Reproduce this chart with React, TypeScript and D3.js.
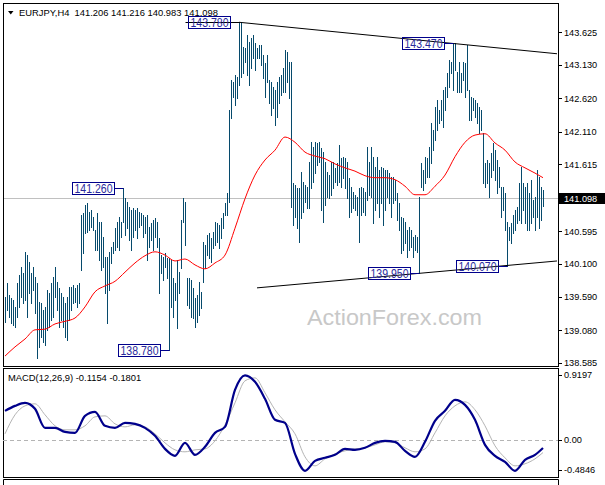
import * as d3 from 'd3'

// EURJPY H4 bars (oldest first)
const highs = [
  139.59, 139.80, 139.62, 139.58, 139.55, 139.44, 139.80, 139.93, 140.05, 139.96,
  140.28, 140.23, 140.12, 139.96, 140.05, 139.90, 139.80, 139.51, 139.50, 139.39,
  139.44, 139.70, 139.65, 139.80, 139.90, 140.05, 139.82, 139.73, 139.65, 139.59,
  139.50, 139.59, 139.74, 139.74, 139.77, 139.73, 139.77, 139.80, 140.84, 140.87,
  140.99, 141.02, 140.89, 140.92, 140.81, 140.61, 140.87, 140.73, 140.73, 140.51,
  140.20, 140.20, 140.28, 140.35, 140.43, 140.64, 140.73, 140.81, 140.73, 141.26,
  141.10, 141.04, 140.96, 140.92, 140.95, 140.92, 140.95, 140.89, 140.87, 140.84,
  140.81, 140.84, 140.66, 140.72, 140.77, 140.80, 140.73, 140.49, 140.23, 140.20,
  140.26, 140.19, 140.19, 140.16, 139.88, 139.80, 140.16, 139.97, 140.77, 141.10,
  141.04, 139.88, 139.88, 139.85, 139.73, 139.58, 139.62, 139.82, 139.67, 140.43,
  140.38, 140.54, 140.57, 140.49, 140.58, 140.73, 140.72, 140.69, 140.80, 140.87,
  141.02, 141.18, 142.44, 142.90, 142.87, 142.98, 142.95, 143.78, 143.77, 143.40,
  143.39, 143.59, 143.48, 143.54, 143.59, 143.46, 143.39, 143.43, 143.43, 143.28,
  143.16, 143.28, 142.90, 142.87, 142.79, 142.75, 142.87, 142.95, 142.98, 143.08,
  143.36, 143.33, 143.17, 143.17, 141.33, 141.30, 141.25, 141.25, 141.50, 141.34,
  141.30, 141.27, 141.65, 141.95, 141.88, 141.95, 141.94, 141.95, 141.86, 141.80,
  141.65, 141.50, 141.45, 141.65, 141.65, 141.56, 141.63, 141.91, 141.71, 141.73,
  141.71, 141.65, 141.41, 141.27, 141.19, 141.15, 141.12, 141.25, 141.27, 141.25,
  141.19, 141.88, 141.65, 141.88, 141.73, 141.57, 141.73, 141.53, 141.57, 141.56,
  141.53, 141.53, 141.48, 141.42, 141.42, 141.38, 141.18, 141.02, 140.81, 140.80,
  140.73, 140.61, 140.66, 140.61, 140.51, 140.54, 140.51, 141.12, 141.63, 141.53,
  141.73, 141.71, 141.88, 142.24, 142.14, 142.49, 142.60, 142.44, 142.60, 142.75,
  142.79, 143.01, 143.21, 143.17, 143.47, 143.46, 143.02, 143.17, 143.01, 143.17,
  143.16, 143.43, 142.75, 142.64, 142.63, 142.60, 142.55, 142.49, 142.44, 142.09,
  141.63, 141.68, 141.63, 141.79, 141.94, 141.83, 141.68, 141.57, 141.27, 141.27,
  141.18, 140.73, 140.66, 140.72, 140.84, 140.92, 140.96, 141.33, 141.57, 141.33,
  141.27, 141.33, 141.18, 141.38, 141.07, 141.12, 141.53, 141.42, 141.27, 141.216
]

const lows = [
  139.21, 139.39, 139.29, 139.19, 139.16, 139.13, 139.29, 139.44, 139.59, 139.50,
  139.55, 139.29, 139.65, 139.50, 139.70, 139.35, 138.66, 138.83, 138.98, 138.90,
  138.86, 139.09, 139.13, 139.24, 139.29, 139.59, 139.39, 139.13, 139.24, 139.13,
  138.98, 138.94, 139.24, 139.39, 139.50, 139.51, 139.44, 139.50, 140.00, 140.26,
  140.57, 140.58, 140.61, 140.66, 140.61, 140.31, 140.31, 140.16, 140.00, 140.05,
  139.65, 139.19, 139.70, 140.11, 140.26, 140.31, 140.35, 140.31, 140.51, 140.73,
  140.54, 140.64, 140.46, 140.31, 140.51, 140.61, 140.49, 140.66, 140.69, 140.51,
  140.57, 140.16, 140.35, 140.46, 140.31, 140.51, 140.35, 139.65, 139.96, 139.85,
  140.05, 139.88, 138.78, 139.44, 139.29, 139.55, 139.12, 139.65, 140.03, 140.73,
  140.38, 139.47, 139.42, 139.29, 139.27, 139.13, 139.21, 139.32, 139.42, 139.82,
  140.03, 140.23, 140.19, 140.12, 140.34, 140.38, 140.43, 140.34, 140.49, 140.64,
  140.84, 140.84, 141.04, 142.32, 142.64, 142.52, 142.63, 142.82, 142.95, 143.01,
  143.17, 142.98, 142.82, 143.08, 143.24, 143.05, 143.24, 143.24, 143.13, 142.93,
  142.64, 142.87, 142.55, 142.37, 142.47, 142.21, 142.34, 142.55, 142.67, 142.72,
  142.72, 142.87, 142.63, 140.96, 140.69, 140.81, 140.64, 140.43, 140.80, 140.89,
  141.04, 140.95, 140.95, 141.25, 141.34, 141.48, 141.60, 141.65, 140.92, 140.73,
  140.99, 141.12, 141.10, 141.15, 141.25, 141.34, 141.30, 141.34, 141.27, 141.41,
  141.25, 141.10, 140.81, 140.89, 140.95, 140.92, 140.84, 140.43, 140.84, 140.89,
  140.84, 141.07, 141.15, 141.12, 140.72, 140.92, 141.02, 140.81, 141.02, 140.69,
  140.92, 141.12, 141.02, 140.81, 141.02, 141.07, 140.77, 140.61, 140.26, 140.31,
  140.41, 140.20, 140.31, 140.35, 140.20, 140.31, 140.28, 139.95, 141.27, 141.22,
  141.33, 141.42, 141.42, 141.63, 141.83, 141.99, 142.14, 142.24, 142.29, 142.18,
  142.44, 142.64, 142.79, 143.01, 142.75, 143.05, 142.72, 142.72, 142.72, 142.90,
  142.64, 142.75, 142.29, 142.29, 142.44, 142.34, 142.24, 142.09, 142.14, 141.33,
  141.27, 141.33, 141.12, 141.42, 141.53, 141.38, 141.18, 141.27, 140.81, 140.92,
  140.61, 140.07, 140.46, 140.41, 140.57, 140.61, 140.72, 140.77, 140.72, 140.92,
  140.72, 140.61, 140.61, 140.72, 140.81, 140.61, 140.81, 140.64, 140.77, 140.983
]

// indicator samples: every 5th bar plus the last one
const sampleBars = [...d3.range(0, 270, 5), 269]

const maValues = [
  138.69, 138.83, 138.95, 139.09, 139.10, 139.18, 139.22, 139.27, 139.44, 139.67,
  139.76, 139.83, 139.97, 140.11, 140.22, 140.28, 140.23, 140.14, 140.17, 140.08,
  140.02, 140.11, 140.23, 140.64, 141.09, 141.45, 141.68, 141.83, 142.03, 141.95,
  141.80, 141.74, 141.70, 141.62, 141.56, 141.51, 141.44, 141.41, 141.41, 141.38,
  141.28, 141.15, 141.15, 141.28, 141.45, 141.73, 141.95, 142.06, 142.08, 141.94,
  141.83, 141.65, 141.56, 141.48, 141.41
]

const macdMain = [
  0.411, 0.482, 0.525, 0.440, 0.170, 0.170, 0.113, 0.099, 0.340, 0.397,
  0.199, 0.170, 0.241, 0.227, 0.170, 0.057, -0.128, -0.227, -0.043, -0.213,
  -0.099, 0.099, 0.184, 0.709, 0.915, 0.823, 0.582, 0.284, 0.241, -0.199,
  -0.440, -0.298, -0.255, -0.213, -0.128, -0.142, -0.113, -0.043, -0.014, -0.028,
  -0.156, -0.241, -0.028, 0.270, 0.411, 0.567, 0.496, 0.284, -0.071, -0.227,
  -0.312, -0.440, -0.284, -0.213, -0.1154
]

const macdSignal = [
  0.085, 0.355, 0.482, 0.511, 0.355, 0.199, 0.142, 0.142, 0.199, 0.326,
  0.340, 0.227, 0.184, 0.213, 0.184, 0.085, -0.043, -0.142, -0.170, -0.142,
  -0.128, -0.014, 0.213, 0.525, 0.837, 0.879, 0.667, 0.426, 0.255, 0.085,
  -0.241, -0.369, -0.270, -0.199, -0.156, -0.128, -0.113, -0.071, -0.028, -0.043,
  -0.113, -0.170, -0.128, 0.099, 0.340, 0.482, 0.539, 0.426, 0.199, -0.085,
  -0.255, -0.369, -0.340, -0.270, -0.1801
]

const priceTicks = [143.625, 143.13, 142.62, 142.11, 141.615, 140.595, 140.1, 139.59, 139.08, 138.585]
const macdTicks = [0.9197, 0, -0.4846]
const lastPrice = 141.098
const header = 'EURJPY,H4  141.206 141.216 140.983 141.098'
const macdHeader = 'MACD(12,26,9) -0.1154 -0.1801'

const callouts = [
  { bar: 117, price: 143.78, text: '143.780', lead: true },
  { bar: 224, price: 143.47, text: '143.470', lead: false },
  { bar: 59, price: 141.26, text: '141.260', lead: false },
  { bar: 82, price: 138.78, text: '138.780', lead: false },
  { bar: 207, price: 139.95, text: '139.950', lead: false },
  { bar: 251, price: 140.07, text: '140.070', lead: false }
]

// [bar, price, bar, price]
const trendlines = [
  [117, 143.78, 276, 143.3],
  [126, 139.73, 276, 140.14]
]

const font = '"Liberation Sans", Arial, sans-serif'
const barColor = '#064a6c'

export default function App() {
  const width = 605
  const height = 485
  const plot = { left: 3, right: 558, top: 3, bottom: 366 }
  const macdPanel = { top: 368, bottom: 477 }

  const n = highs.length
  const x = d3.scaleLinear().domain([0, n - 1]).range([5, 5 + 2 * (n - 1)])
  const y = d3.scaleLinear().domain([138.5385, 144.074]).range([plot.bottom, plot.top])
  const ym = d3.scaleLinear().domain([-0.4846, 0.9197]).range([474, 375])
  const crisp = (v: number) => Math.round(v) + 0.5

  const barsPath = highs
    .map((h, i) => `M${crisp(x(i))},${Math.round(y(h))}V${Math.round(y(lows[i])) + 1}`)
    .join('')

  const maLine = d3.line<number>()
    .x((_, k) => x(sampleBars[k]))
    .y(d => y(d))
    .curve(d3.curveMonotoneX)

  const macdLine = d3.line<number>()
    .x((_, k) => x(sampleBars[k]))
    .y(d => ym(d))
    .curve(d3.curveMonotoneX)

  const lastY = y(lastPrice)

  return (
    <svg width={width} height={height} style={{ position: 'absolute', left: 0, top: 0, background: '#fff' }}>
      <defs>
        <clipPath id="main-clip">
          <rect x={plot.left} y={plot.top} width={plot.right - plot.left} height={plot.bottom - plot.top} />
        </clipPath>
        <clipPath id="macd-clip">
          <rect x={plot.left} y={macdPanel.top} width={plot.right - plot.left} height={macdPanel.bottom - macdPanel.top} />
        </clipPath>
      </defs>

      {/* watermark */}
      <text x={307} y={325} fontFamily={font} fontSize={22} fill="#c8c8c8" textLength={175} lengthAdjust="spacingAndGlyphs">
        ActionForex.com
      </text>

      {/* current price line */}
      <line x1={plot.left} x2={plot.right} y1={crisp(lastY)} y2={crisp(lastY)} stroke="#c0c0c0" />

      <g clipPath="url(#main-clip)">
        <path d={barsPath} stroke={barColor} strokeWidth={1} fill="none" shapeRendering="crispEdges" />
        <path d={maLine(maValues) || ''} stroke="#ff0000" strokeWidth={1} fill="none" />
        {trendlines.map(([b1, p1, b2, p2], k) => (
          <line key={k} x1={x(b1)} y1={y(p1)} x2={x(b2)} y2={y(p2)} stroke="#000" strokeWidth={1} />
        ))}
      </g>

      {/* swing labels */}
      {callouts.map(c => {
        const bx = crisp(x(c.bar))
        const py = Math.round(y(c.price)) + 0.5
        const right = bx - 9
        const left = right - 42
        return (
          <g key={c.text}>
            {c.lead
              ? <line x1={left - 3} x2={bx} y1={py} y2={py} stroke="#000" />
              : <line x1={right} x2={bx} y1={py} y2={py} stroke="#00008b" />}
            <rect x={left} y={py - 6} width={42} height={12} fill="none" stroke="#00008b" strokeWidth={1} />
            <text x={left + 2} y={py + 4.5} fontFamily={font} fontSize={12} fill="#2a2a9c"
              textLength={38} lengthAdjust="spacingAndGlyphs">
              {c.text}
            </text>
          </g>
        )
      })}

      {/* header */}
      <path d="M8,11 L13.5,11 L10.75,14.5 Z" fill="#000" />
      <text x={19} y={16} fontFamily={font} fontSize={9.4} fill="#000" style={{ whiteSpace: 'pre' }}>
        {header}
      </text>

      {/* panel frames */}
      <rect x={plot.left + 0.5} y={plot.top + 0.5} width={plot.right - plot.left} height={plot.bottom - plot.top}
        fill="none" stroke="#000" />
      <rect x={plot.left + 0.5} y={macdPanel.top + 0.5} width={plot.right - plot.left} height={macdPanel.bottom - macdPanel.top}
        fill="none" stroke="#000" />
      <path d={`M${plot.left + 0.5},${height + 2}V${479.5}H${plot.right + 0.5}V${height + 2}`} fill="none" stroke="#000" />

      {/* price axis */}
      {priceTicks.map(t => (
        <g key={t}>
          <line x1={plot.right} x2={plot.right + 4} y1={crisp(y(t))} y2={crisp(y(t))} stroke="#000" />
          <text x={564} y={y(t) + 3.4} fontFamily={font} fontSize={9.2} fill="#000">{t.toFixed(3)}</text>
        </g>
      ))}
      <rect x={559} y={Math.round(lastY) - 5} width={46} height={11} fill="#000" />
      <text x={564} y={lastY + 3.6} fontFamily={font} fontSize={9.2} fill="#fff">{lastPrice.toFixed(3)}</text>

      {/* MACD */}
      <g clipPath="url(#macd-clip)">
        <line x1={plot.left} x2={plot.right} y1={crisp(ym(0))} y2={crisp(ym(0))}
          stroke="#b4b4b4" strokeDasharray="4,3" />
        <path d={macdLine(macdSignal) || ''} stroke="#b4b4b4" strokeWidth={1} fill="none" />
        <path d={macdLine(macdMain) || ''} stroke="#00008b" strokeWidth={2.2} fill="none" strokeLinejoin="round" />
      </g>
      <text x={8} y={380.5} fontFamily={font} fontSize={9.4} fill="#000">{macdHeader}</text>
      {macdTicks.map((t, k) => {
        const ty = k === macdTicks.length - 1 ? ym(t) - 4 : ym(t)
        return (
          <g key={t}>
            <line x1={plot.right} x2={plot.right + 4} y1={crisp(ty)} y2={crisp(ty)} stroke="#000" />
            <text x={564} y={ty + 3.4} fontFamily={font} fontSize={9.2} fill="#000">
              {t === 0 ? '0.00' : t.toFixed(4)}
            </text>
          </g>
        )
      })}

      {/* next panel, cut off at the bottom */}
      <line x1={plot.right} x2={plot.right + 4} y1={487.5} y2={487.5} stroke="#000" />
      <text x={564} y={491} fontFamily={font} fontSize={9.2} fill="#000">100</text>
    </svg>
  )
}
